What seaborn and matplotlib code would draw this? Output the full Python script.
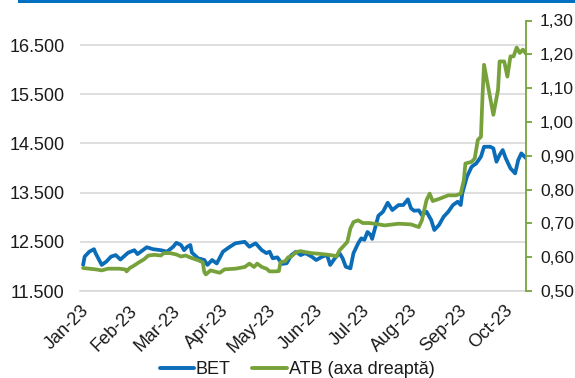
import matplotlib
matplotlib.use("Agg")
import matplotlib.pyplot as plt
import matplotlib.dates as mdates
from matplotlib.patches import Rectangle
from matplotlib.lines import Line2D
from matplotlib.ticker import FixedLocator, FuncFormatter
import pandas as pd
import seaborn as sns

# ---------------- data ----------------
bet_dates = ["2023-01-03", "2023-01-04", "2023-01-07", "2023-01-10", "2023-01-11", "2023-01-15",
             "2023-01-18", "2023-01-21", "2023-01-24", "2023-01-27", "2023-02-01", "2023-02-05",
             "2023-02-07", "2023-02-10", "2023-02-13", "2023-02-17", "2023-02-22", "2023-02-26",
             "2023-03-02", "2023-03-04", "2023-03-07", "2023-03-09", "2023-03-11", "2023-03-13",
             "2023-03-14", "2023-03-18", "2023-03-22", "2023-03-24", "2023-03-27", "2023-03-30",
             "2023-04-03", "2023-04-07", "2023-04-11", "2023-04-17", "2023-04-20", "2023-04-24",
             "2023-04-28", "2023-05-01", "2023-05-03", "2023-05-05", "2023-05-08", "2023-05-11",
             "2023-05-14", "2023-05-17", "2023-05-20", "2023-05-23", "2023-05-26", "2023-05-30",
             "2023-06-02", "2023-06-06", "2023-06-09", "2023-06-11", "2023-06-14", "2023-06-17",
             "2023-06-19", "2023-06-21", "2023-06-24", "2023-06-26", "2023-06-29", "2023-07-01",
             "2023-07-03", "2023-07-05", "2023-07-07", "2023-07-08", "2023-07-12", "2023-07-15",
             "2023-07-18", "2023-07-21", "2023-07-25", "2023-07-28", "2023-07-31", "2023-08-02",
             "2023-08-04", "2023-08-07", "2023-08-09", "2023-08-12", "2023-08-15", "2023-08-17",
             "2023-08-20", "2023-08-23", "2023-08-26", "2023-08-29", "2023-09-01", "2023-09-03",
             "2023-09-04", "2023-09-07", "2023-09-10", "2023-09-13", "2023-09-16", "2023-09-18",
             "2023-09-22", "2023-09-24", "2023-09-26", "2023-09-28", "2023-09-30", "2023-10-02",
             "2023-10-05", "2023-10-08", "2023-10-10", "2023-10-12", "2023-10-15"]
bet_values = [12030, 12200, 12300, 12350, 12270, 12030,
              12100, 12200, 12230, 12140, 12280, 12330,
              12250, 12320, 12390, 12350, 12330, 12300,
              12400, 12480, 12435, 12330, 12400, 12435,
              12280, 12165, 12130, 12030, 12130, 12060,
              12300, 12390, 12470, 12500, 12400, 12470,
              12330, 12270, 12300, 12165, 12185, 12050,
              12065, 12230, 12300, 12230, 12270, 12200,
              12130, 12200, 12230, 12030, 12165, 12270,
              12165, 11995, 11960, 12270, 12470, 12570,
              12540, 12700, 12640, 12560, 13030, 13112,
              13295, 13146, 13248, 13248, 13364, 13181,
              13132, 13140, 13045, 13112, 12943, 12740,
              12841, 13010, 13112, 13248, 13315, 13248,
              13486, 13823, 14026, 14095, 14230, 14433,
              14433, 14400, 14128, 14264, 14366, 14197,
              13994, 13892, 14163, 14299, 14200]

atb_dates = ["2023-01-03", "2023-01-11", "2023-01-15", "2023-01-19", "2023-01-26", "2023-01-30",
             "2023-01-31", "2023-02-02", "2023-02-04", "2023-02-08", "2023-02-11", "2023-02-14",
             "2023-02-18", "2023-02-22", "2023-02-24", "2023-02-28", "2023-03-04", "2023-03-07",
             "2023-03-10", "2023-03-13", "2023-03-18", "2023-03-21", "2023-03-22", "2023-03-23",
             "2023-03-26", "2023-03-30", "2023-04-01", "2023-04-04", "2023-04-11", "2023-04-17",
             "2023-04-20", "2023-04-23", "2023-04-25", "2023-04-28", "2023-05-01", "2023-05-03",
             "2023-05-07", "2023-05-09", "2023-05-10", "2023-05-13", "2023-05-15", "2023-05-17",
             "2023-05-20", "2023-05-23", "2023-05-26", "2023-05-30", "2023-06-04", "2023-06-08",
             "2023-06-13", "2023-06-15", "2023-06-17", "2023-06-20", "2023-06-22", "2023-06-24",
             "2023-06-26", "2023-06-29", "2023-07-02", "2023-07-06", "2023-07-10", "2023-07-16",
             "2023-07-25", "2023-08-02", "2023-08-07", "2023-08-09", "2023-08-12", "2023-08-14",
             "2023-08-16", "2023-08-21", "2023-08-26", "2023-08-31", "2023-09-03", "2023-09-05",
             "2023-09-06", "2023-09-10", "2023-09-12", "2023-09-14", "2023-09-16", "2023-09-17",
             "2023-09-18", "2023-09-21", "2023-09-24", "2023-09-27", "2023-09-28", "2023-10-01",
             "2023-10-03", "2023-10-05", "2023-10-07", "2023-10-09", "2023-10-11", "2023-10-13",
             "2023-10-15"]
atb_values = [0.568, 0.564, 0.561, 0.566, 0.566, 0.564,
              0.558, 0.568, 0.573, 0.585, 0.593, 0.605,
              0.607, 0.605, 0.612, 0.612, 0.608, 0.602,
              0.605, 0.599, 0.591, 0.585, 0.556, 0.549,
              0.561, 0.556, 0.554, 0.564, 0.566, 0.571,
              0.581, 0.571, 0.581, 0.571, 0.566, 0.558,
              0.558, 0.559, 0.585, 0.588, 0.600, 0.602,
              0.615, 0.618, 0.615, 0.612, 0.610, 0.608,
              0.605, 0.602, 0.620, 0.635, 0.645, 0.685,
              0.704, 0.709, 0.701, 0.701, 0.699, 0.694,
              0.699, 0.697, 0.689, 0.709, 0.769, 0.788,
              0.766, 0.774, 0.783, 0.783, 0.788, 0.828,
              0.877, 0.882, 0.892, 0.947, 0.956, 1.075,
              1.169, 1.095, 1.021, 1.095, 1.179, 1.179,
              1.134, 1.194, 1.194, 1.220, 1.204, 1.214,
              1.202]

left_ticks = [11500, 12500, 13500, 14500, 15500, 16500]
right_ticks = [0.50, 0.60, 0.70, 0.80, 0.90, 1.00, 1.10, 1.20, 1.30]
series_labels = ["BET", "ATB (axa dreaptă)"]

# ---------------- style ----------------
BLUE = "#0B6DB8"
GREEN = "#77A23B"
GRID = "#D9D9D9"
TEXT = "#1A1A1A"
FS = 13

sns.set_style("white")
plt.rcParams["font.family"] = ["Liberation Sans", "DejaVu Sans"]
plt.rcParams["font.size"] = FS
plt.rcParams["text.color"] = TEXT
plt.rcParams["xtick.color"] = TEXT
plt.rcParams["ytick.color"] = TEXT

bet = pd.DataFrame({"date": pd.to_datetime(bet_dates), "value": bet_values})
atb = pd.DataFrame({"date": pd.to_datetime(atb_dates), "value": atb_values})

fig = plt.figure(figsize=(5.75, 3.78), dpi=100)
ax = fig.add_axes([80 / 575, 1 - 291 / 378, (526 - 80) / 575, (291 - 20.5) / 378])
ax2 = ax.twinx()

sns.lineplot(data=bet, x="date", y="value", ax=ax, color=BLUE, lw=2.7, legend=False)
sns.lineplot(data=atb, x="date", y="value", ax=ax2, color=GREEN, lw=2.7, legend=False)

ax.set_xlim(pd.Timestamp("2023-01-01"), pd.Timestamp("2023-10-15"))
ax.set_ylim(11500, 17000)
ax2.set_ylim(0.5, 1.3)

ax.yaxis.set_major_locator(FixedLocator(left_ticks))
ax.yaxis.set_major_formatter(FuncFormatter(lambda v, p: f"{v:,.0f}".replace(",", ".")))
ax2.yaxis.set_major_locator(FixedLocator(right_ticks))
ax2.yaxis.set_major_formatter(FuncFormatter(lambda v, p: f"{v:.2f}".replace(".", ",")))

ax.xaxis.set_major_locator(mdates.MonthLocator())
ax.xaxis.set_major_formatter(mdates.DateFormatter("%b-%y"))

ax.set_xlabel("")
ax.set_ylabel("")
ax2.set_xlabel("")
ax2.set_ylabel("")

ax.grid(False)
ax2.grid(False)
ax.yaxis.grid(True, color=GRID, lw=1.2)
ax.set_axisbelow(True)

for s in ["left", "top", "right"]:
    ax.spines[s].set_visible(False)
ax.spines["bottom"].set_color(GRID)
ax.spines["bottom"].set_linewidth(1.2)
for s in ["left", "top", "bottom"]:
    ax2.spines[s].set_visible(False)
ax2.spines["right"].set_color(GREEN)
ax2.spines["right"].set_linewidth(1.3)

ax.tick_params(axis="x", length=5, width=1.2, color=GRID, direction="out", pad=3, labelsize=FS)
ax.tick_params(axis="y", length=0, pad=11, labelsize=FS)
ax2.tick_params(axis="y", length=4, width=1.3, color=GREEN, direction="out", pad=6, labelsize=12.6)

for lab in ax.get_xticklabels():
    lab.set_rotation(45)
    lab.set_ha("right")
    lab.set_va("top")
    lab.set_rotation_mode("anchor")

handles = [Line2D([], [], color=BLUE, lw=2.8), Line2D([], [], color=GREEN, lw=2.8)]
fig.legend(handles, series_labels, loc="center", bbox_to_anchor=(297 / 575, 1 - 370 / 378),
           ncol=2, frameon=False, handlelength=1.9, handletextpad=0.1, columnspacing=1.2,
           fontsize=FS, borderaxespad=0, borderpad=0)

fig.add_artist(Rectangle((18 / 575, 1 - 3 / 378), 1 - 18 / 575, 3 / 378,
                         transform=fig.transFigure, color="#0070C0", lw=0))

fig.savefig("out.png", dpi=100)
